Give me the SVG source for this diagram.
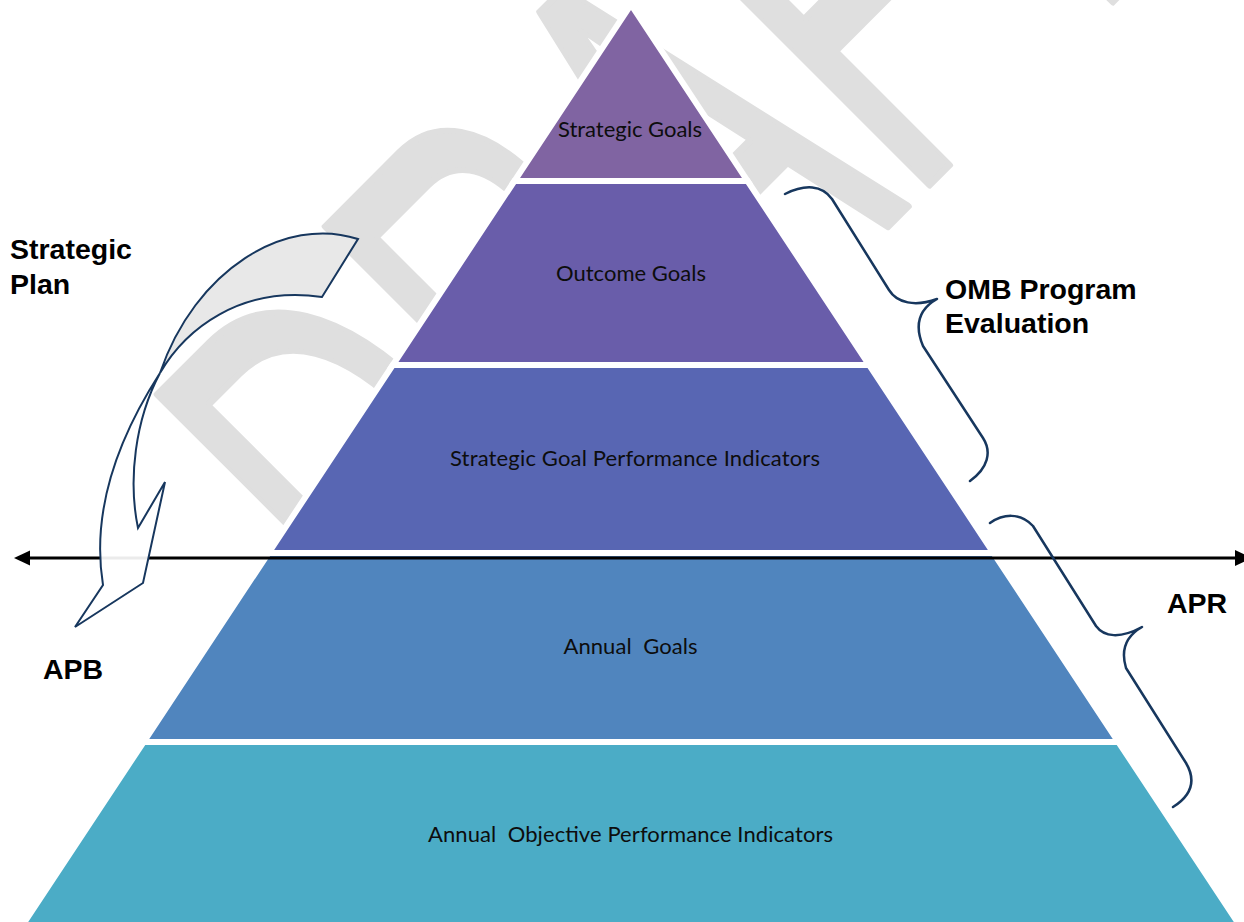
<svg xmlns="http://www.w3.org/2000/svg" width="1244" height="922" viewBox="0 0 1244 922">
  <defs>
    <style>
      .wm{font-family:"Liberation Sans",Arial,sans-serif;fill:#dfdfdf;stroke:#dfdfdf;stroke-width:7;stroke-linejoin:round}
      .tier{stroke:#ffffff;stroke-width:6;stroke-linejoin:miter}
      .lbl{font-family:Lato,"Open Sans",sans-serif;font-size:22px;fill:#0d0d0d;text-anchor:middle;white-space:pre}
      .side{font-family:"Liberation Sans",Arial,sans-serif;font-weight:bold;font-size:28.5px;fill:#000000}
      .brace{fill:none;stroke:#17375E;stroke-width:2.5;stroke-linecap:round;stroke-linejoin:round}
      .outline{stroke:#17375E;stroke-width:2;stroke-linejoin:miter}
      .axis{stroke:#000000;stroke-width:3}
    </style>
  </defs>

  <rect width="1244" height="922" fill="#ffffff"/>

  <!-- diagonal watermark -->
  <text class="wm" x="-196" y="788" font-size="578" textLength="1096" lengthAdjust="spacingAndGlyphs" transform="rotate(-45)">DRAFT</text>

  <!-- pyramid tiers -->
  <g id="tier-strategic-goals">
    <polygon class="tier" fill="#8064A2" points="631,4.6 747.6,181 514.4,181"/>
    <text class="lbl" x="630" y="137" textLength="144" xml:space="preserve">Strategic Goals</text>
  </g>
  <g id="tier-outcome-goals">
    <polygon class="tier" fill="#695DAA" points="514.4,181 747.6,181 869.2,365 392.8,365"/>
    <text class="lbl" x="631" y="281" textLength="150" xml:space="preserve">Outcome Goals</text>
  </g>
  <g id="tier-strategic-indicators">
    <polygon class="tier" fill="#5866B3" points="392.8,365 869.2,365 993.5,553 268.5,553"/>
    <text class="lbl" x="635" y="466" textLength="370" xml:space="preserve">Strategic Goal Performance Indicators</text>
  </g>
  <g id="tier-annual-goals">
    <polygon class="tier" fill="#5085BE" points="268.5,553 993.5,553 1118.4,742 143.6,742"/>
    <text class="lbl" x="630.5" y="654" textLength="134" xml:space="preserve">Annual  Goals</text>
  </g>
  <g id="tier-annual-indicators">
    <polygon class="tier" fill="#4BACC6" points="143.6,742 1118.4,742 1249.3,940 12.7,940"/>
    <text class="lbl" x="630.5" y="842" textLength="405" xml:space="preserve">Annual  Objective Performance Indicators</text>
  </g>

  <!-- connectors -->
  <g id="connectors">
    <g id="horizon-arrow">
      <line class="axis" x1="28" y1="558" x2="1237" y2="558"/>
      <polygon fill="#000000" points="14,558 30,550.5 30,565.5"/>
      <polygon fill="#000000" points="1252,558 1235,550 1235,566"/>
    </g>
    <g id="curved-arrow">
      <path class="outline" fill="#e8e8e8" d="M358,239 C285,215 195,270 160,373 C185,330 240,285 322,297 Z"/>
      <path class="outline" fill="#ffffff" fill-opacity="0.92" d="M160,373 C122,432 90,505 103,585 L75,627 L143,583 L165,482 L138,528 C128,480 135,420 160,373 Z"/>
    </g>
    <path id="brace-omb" class="brace" d="M785,194 C805,184 822,185 832,199 L889,290 C897,303 915,307 937,299 C921,308 913,322 923,346 L983,438 C992,452 988,468 970,481"/>
    <path id="brace-apr" class="brace" d="M990,523 C1003,514 1020,512 1033,526 L1096,626 C1104,637 1120,639 1142,627 C1128,635 1120,648 1126,668 L1186,763 C1196,780 1192,795 1173,807"/>
  </g>

  <!-- side labels -->
  <g id="label-strategic-plan">
    <text class="side" x="10" y="259">Strategic</text>
    <text class="side" x="10" y="294">Plan</text>
  </g>
  <g id="label-omb">
    <text class="side" x="945" y="299">OMB Program</text>
    <text class="side" x="945" y="333">Evaluation</text>
  </g>
  <g id="label-apr">
    <text class="side" x="1167" y="613">APR</text>
  </g>
  <g id="label-apb">
    <text class="side" x="43" y="679">APB</text>
  </g>
</svg>
